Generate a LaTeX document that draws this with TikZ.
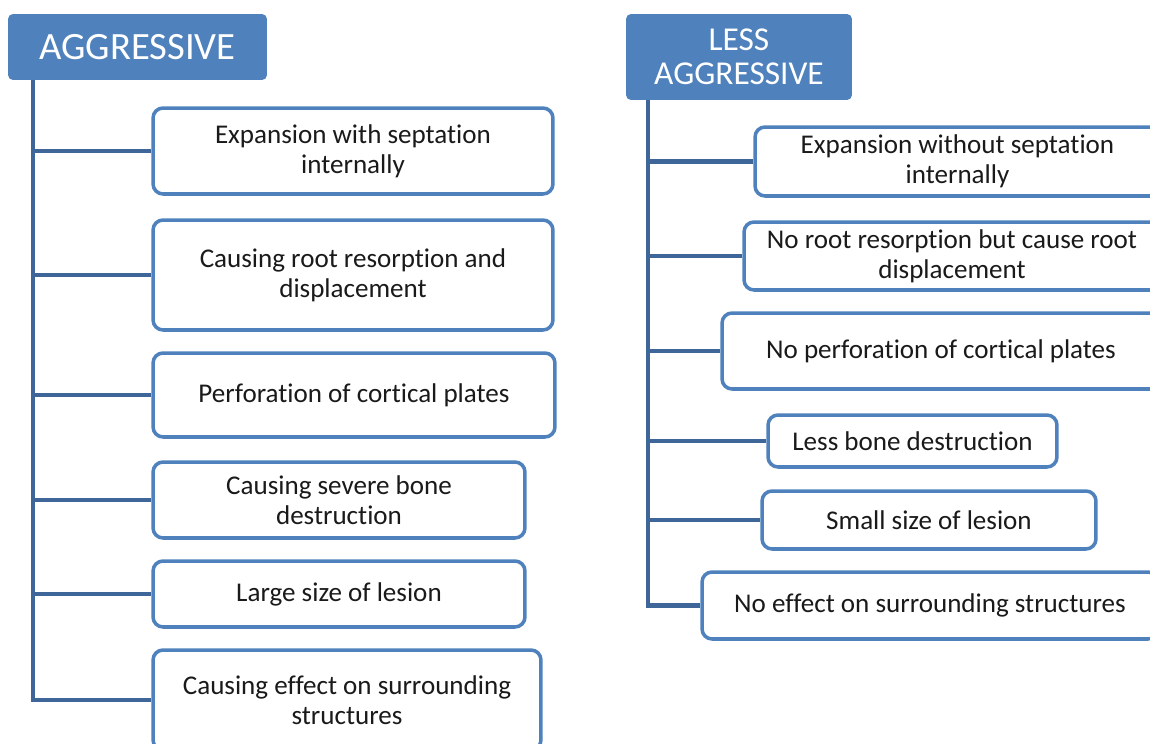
\documentclass[tikz,border=0pt]{standalone}
\usepackage{fontspec}
\setmainfont{Carlito}[Ligatures=NoCommon]
\usepackage{tikz}
\usetikzlibrary{positioning}
\definecolor{lsblue}{RGB}{79,129,189}
\definecolor{lsdarkblue}{RGB}{62,102,152}
\definecolor{lstext}{RGB}{26,26,26}
\tikzstyle{header} = [rectangle, rounded corners=0.1cm, fill=lsblue, text=white, align=center, inner sep=0pt]
\tikzstyle{trait} = [rectangle, rounded corners=0.2cm, draw=lsblue, line width=2pt, fill=white, text=lstext, align=center, inner sep=0pt, font=\fontsize{15.4}{17}\selectfont]
\tikzstyle{link} = [line width=2.4pt, color=lsdarkblue]

\begin{document}
\begin{tikzpicture}[x=0.02cm, y=-0.02cm]
\useasboundingbox (0,0) rectangle (1150,744);
\clip (0,0) rectangle (1150,744);

% Aggressive column
\node (agg) [header, minimum width=5.18cm, minimum height=1.32cm, font=\fontsize{22}{24}\selectfont] at (137.5,47) {AGGRESSIVE};
\coordinate (aggtrunk) at (33,80);

\node (a1) [trait, minimum width=8cm, minimum height=1.72cm] at (353,151) {Expansion with septation\\internally};
\node (a2) [trait, minimum width=8cm, minimum height=2.2cm] at (353,275) {Causing root resorption and\\displacement};
\node (a3) [trait, minimum width=8.04cm, minimum height=1.68cm] at (354,395) {Perforation of cortical plates};
\node (a4) [trait, minimum width=7.44cm, minimum height=1.52cm] at (339,500) {Causing severe bone\\destruction};
\node (a5) [trait, minimum width=7.44cm, minimum height=1.32cm] at (339,594) {Large size of lesion};
\node (a6) [trait, minimum width=7.76cm, minimum height=2cm] at (347,700) {Causing effect on surrounding\\structures};

% Less aggressive column
\node (less) [header, minimum width=4.52cm, minimum height=1.72cm, font=\fontsize{19}{19.5}\selectfont] at (739,57) {LESS\\AGGRESSIVE};
\coordinate (lesstrunk) at (648,100);

\node (l1) [trait, minimum width=8.1cm, minimum height=1.38cm] at (957.5,161.5) {Expansion without septation\\internally};
\node (l2) [trait, minimum width=8.32cm, minimum height=1.36cm] at (952,256) {No root resorption but cause root\\displacement};
\node (l3) [trait, minimum width=8.76cm, minimum height=1.52cm] at (941,351) {No perforation of cortical plates};
\node (l4) [trait, minimum width=5.78cm, minimum height=1.04cm] at (912.5,441) {Less bone destruction};
\node (l5) [trait, minimum width=6.68cm, minimum height=1.16cm] at (929,520) {Small size of lesion};
\node (l6) [trait, minimum width=9.12cm, minimum height=1.34cm] at (930,605.5) {No effect on surrounding structures};

% Connections
\draw[link] (aggtrunk) |- (a6.west);
\foreach \n in {a1,a2,a3,a4,a5}
  \draw[link] (\n.west) -- (\n.west -| aggtrunk);

\draw[link] (lesstrunk) |- (l6.west);
\foreach \n in {l1,l2,l3,l4,l5}
  \draw[link] (\n.west) -- (\n.west -| lesstrunk);
\end{tikzpicture}
\end{document}
